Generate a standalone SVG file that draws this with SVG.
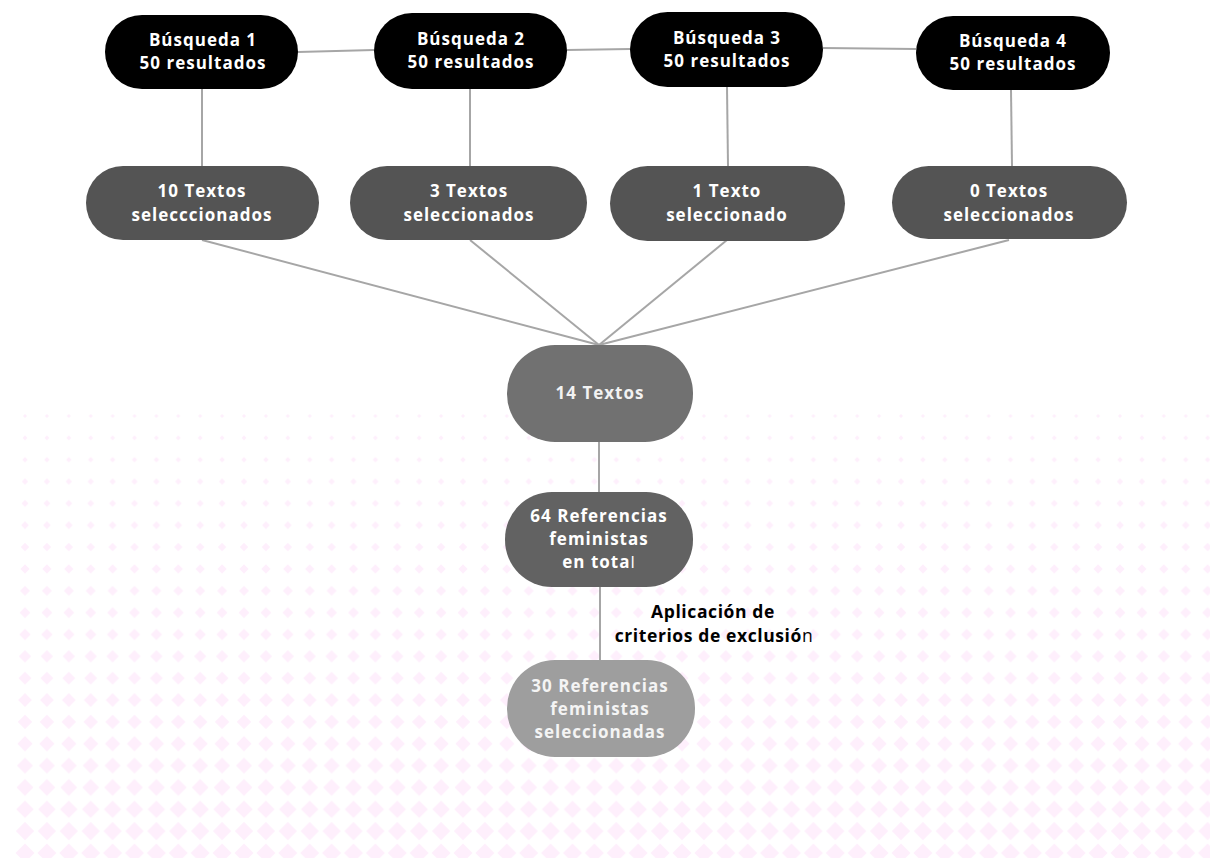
<svg xmlns="http://www.w3.org/2000/svg" width="1210" height="858" viewBox="0 0 1210 858">
<style>
.n text{font-family:"Open Sans","Liberation Sans",sans-serif;font-weight:700;font-size:17px;letter-spacing:1px;text-anchor:middle;fill:#fff}
.b rect{fill:#000}
.s rect{fill:#545454}
.c line{stroke:#a6a6a6;stroke-width:2}
.lbl{font-family:"Open Sans","Liberation Sans",sans-serif;font-weight:700;font-size:17.5px;letter-spacing:0.6px;fill:#000;text-anchor:middle}
</style>
<defs>
<path id="d" d="M0-1L1 0L0 1L-1 0Z" fill="#feeffc"/>
<pattern id="r0" patternUnits="userSpaceOnUse" x="14.05" y="405.05" width="21.9" height="21.9"><use href="#d" transform="translate(10.95 10.95) scale(2)"/></pattern>
<pattern id="r1" patternUnits="userSpaceOnUse" x="14.05" y="426.9" width="21.9" height="21.9"><use href="#d" transform="translate(10.95 10.95) scale(2.375)"/></pattern>
<pattern id="r2" patternUnits="userSpaceOnUse" x="14.05" y="448.75" width="21.9" height="21.9"><use href="#d" transform="translate(10.95 10.95) scale(2.75)"/></pattern>
<pattern id="r3" patternUnits="userSpaceOnUse" x="14.05" y="470.6" width="21.9" height="21.9"><use href="#d" transform="translate(10.95 10.95) scale(3.125)"/></pattern>
<pattern id="r4" patternUnits="userSpaceOnUse" x="14.05" y="492.45" width="21.9" height="21.9"><use href="#d" transform="translate(10.95 10.95) scale(3.5)"/></pattern>
<pattern id="r5" patternUnits="userSpaceOnUse" x="14.05" y="514.3" width="21.9" height="21.9"><use href="#d" transform="translate(10.95 10.95) scale(3.875)"/></pattern>
<pattern id="r6" patternUnits="userSpaceOnUse" x="14.05" y="536.15" width="21.9" height="21.9"><use href="#d" transform="translate(10.95 10.95) scale(4.25)"/></pattern>
<pattern id="r7" patternUnits="userSpaceOnUse" x="14.05" y="558" width="21.9" height="21.9"><use href="#d" transform="translate(10.95 10.95) scale(4.625)"/></pattern>
<pattern id="r8" patternUnits="userSpaceOnUse" x="14.05" y="579.85" width="21.9" height="21.9"><use href="#d" transform="translate(10.95 10.95) scale(5)"/></pattern>
<pattern id="r9" patternUnits="userSpaceOnUse" x="14.05" y="601.7" width="21.9" height="21.9"><use href="#d" transform="translate(10.95 10.95) scale(5.375)"/></pattern>
<pattern id="r10" patternUnits="userSpaceOnUse" x="14.05" y="623.55" width="21.9" height="21.9"><use href="#d" transform="translate(10.95 10.95) scale(5.75)"/></pattern>
<pattern id="r11" patternUnits="userSpaceOnUse" x="14.05" y="645.4" width="21.9" height="21.9"><use href="#d" transform="translate(10.95 10.95) scale(6.125)"/></pattern>
<pattern id="r12" patternUnits="userSpaceOnUse" x="14.05" y="667.25" width="21.9" height="21.9"><use href="#d" transform="translate(10.95 10.95) scale(6.5)"/></pattern>
<pattern id="r13" patternUnits="userSpaceOnUse" x="14.05" y="689.1" width="21.9" height="21.9"><use href="#d" transform="translate(10.95 10.95) scale(6.875)"/></pattern>
<pattern id="r14" patternUnits="userSpaceOnUse" x="14.05" y="710.95" width="21.9" height="21.9"><use href="#d" transform="translate(10.95 10.95) scale(7.25)"/></pattern>
<pattern id="r15" patternUnits="userSpaceOnUse" x="14.05" y="732.8" width="21.9" height="21.9"><use href="#d" transform="translate(10.95 10.95) scale(7.625)"/></pattern>
<pattern id="r16" patternUnits="userSpaceOnUse" x="14.05" y="754.65" width="21.9" height="21.9"><use href="#d" transform="translate(10.95 10.95) scale(8)"/></pattern>
<pattern id="r17" patternUnits="userSpaceOnUse" x="14.05" y="776.5" width="21.9" height="21.9"><use href="#d" transform="translate(10.95 10.95) scale(8.375)"/></pattern>
<pattern id="r18" patternUnits="userSpaceOnUse" x="14.05" y="798.35" width="21.9" height="21.9"><use href="#d" transform="translate(10.95 10.95) scale(8.75)"/></pattern>
<pattern id="r19" patternUnits="userSpaceOnUse" x="14.05" y="820.2" width="21.9" height="21.9"><use href="#d" transform="translate(10.95 10.95) scale(9.125)"/></pattern>
<pattern id="r20" patternUnits="userSpaceOnUse" x="14.05" y="842.05" width="21.9" height="21.9"><use href="#d" transform="translate(10.95 10.95) scale(9.5)"/></pattern>
</defs>
<rect width="1210" height="858" fill="#fff"/>
<g id="background-pattern">
<rect x="14.05" y="405.05" width="1196" height="21.9" fill="url(#r0)"/>
<rect x="14.05" y="426.9" width="1196" height="21.9" fill="url(#r1)"/>
<rect x="14.05" y="448.75" width="1196" height="21.9" fill="url(#r2)"/>
<rect x="14.05" y="470.6" width="1196" height="21.9" fill="url(#r3)"/>
<rect x="14.05" y="492.45" width="1196" height="21.9" fill="url(#r4)"/>
<rect x="14.05" y="514.3" width="1196" height="21.9" fill="url(#r5)"/>
<rect x="14.05" y="536.15" width="1196" height="21.9" fill="url(#r6)"/>
<rect x="14.05" y="558" width="1196" height="21.9" fill="url(#r7)"/>
<rect x="14.05" y="579.85" width="1196" height="21.9" fill="url(#r8)"/>
<rect x="14.05" y="601.7" width="1196" height="21.9" fill="url(#r9)"/>
<rect x="14.05" y="623.55" width="1196" height="21.9" fill="url(#r10)"/>
<rect x="14.05" y="645.4" width="1196" height="21.9" fill="url(#r11)"/>
<rect x="14.05" y="667.25" width="1196" height="21.9" fill="url(#r12)"/>
<rect x="14.05" y="689.1" width="1196" height="21.9" fill="url(#r13)"/>
<rect x="14.05" y="710.95" width="1196" height="21.9" fill="url(#r14)"/>
<rect x="14.05" y="732.8" width="1196" height="21.9" fill="url(#r15)"/>
<rect x="14.05" y="754.65" width="1196" height="21.9" fill="url(#r16)"/>
<rect x="14.05" y="776.5" width="1196" height="21.9" fill="url(#r17)"/>
<rect x="14.05" y="798.35" width="1196" height="21.9" fill="url(#r18)"/>
<rect x="14.05" y="820.2" width="1196" height="21.9" fill="url(#r19)"/>
<rect x="14.05" y="842.05" width="1196" height="21.9" fill="url(#r20)"/>
</g>
<g class="c" id="connectors">
<line x1="298" y1="52" x2="374" y2="50"/>
<line x1="567" y1="50" x2="630" y2="49"/>
<line x1="823" y1="48" x2="916" y2="49"/>
<line x1="202" y1="89" x2="202" y2="166"/>
<line x1="470" y1="89" x2="470" y2="166"/>
<line x1="727" y1="87" x2="728" y2="166"/>
<line x1="1011" y1="90" x2="1012" y2="166"/>
<line x1="202" y1="240" x2="599" y2="345"/>
<line x1="470" y1="240" x2="599" y2="345"/>
<line x1="727" y1="240" x2="599" y2="345"/>
<line x1="1009" y1="240" x2="599" y2="345"/>
<line x1="599" y1="442" x2="599" y2="492"/>
<line x1="600" y1="587" x2="600" y2="660"/>
</g>
<g id="busqueda1" class="n b"><rect x="105" y="15" width="193" height="74" rx="37"/><text x="203" y="46">Búsqueda 1</text><text x="203" y="69">50 resultados</text></g>
<g id="busqueda2" class="n b"><rect x="374" y="13" width="193" height="76" rx="38"/><text x="471" y="45">Búsqueda 2</text><text x="471" y="68">50 resultados</text></g>
<g id="busqueda3" class="n b"><rect x="630" y="12" width="193" height="75" rx="37.5"/><text x="727" y="44">Búsqueda 3</text><text x="727" y="67">50 resultados</text></g>
<g id="busqueda4" class="n b"><rect x="916" y="16" width="194" height="74" rx="37"/><text x="1013" y="47">Búsqueda 4</text><text x="1013" y="70">50 resultados</text></g>
<g id="sel1" class="n s"><rect x="86" y="166" width="233" height="74" rx="37"/><text x="202" y="197">10 Textos</text><text x="202" y="221">selecccionados</text></g>
<g id="sel2" class="n s"><rect x="350" y="166" width="237" height="74" rx="37"/><text x="469" y="197">3 Textos</text><text x="469" y="221">seleccionados</text></g>
<g id="sel3" class="n s"><rect x="610" y="166" width="235" height="75" rx="37.5"/><text x="727" y="197">1 Texto</text><text x="727" y="221">seleccionado</text></g>
<g id="sel4" class="n s"><rect x="892" y="166" width="235" height="73" rx="36.5"/><text x="1009" y="197">0 Textos</text><text x="1009" y="221">seleccionados</text></g>
<g id="total14" class="n"><rect x="507" y="345" width="186" height="97" rx="48" fill="#717171"/><text x="600" y="399" style="fill:#f2f2f2">14 Textos</text></g>
<g id="ref64" class="n"><rect x="505" y="492" width="188" height="95" rx="47" fill="#626262"/><text x="599" y="522">64 Referencias</text><text x="599" y="545">feministas</text><text x="599" y="568">en tota<tspan font-weight="400">l</tspan></text></g>
<g id="ref30" class="n"><rect x="507" y="660" width="188" height="97" rx="48" fill="#9e9e9e"/><text x="600" y="692" style="fill:#f4f4f4">30 Referencias</text><text x="600" y="715" style="fill:#f4f4f4">feministas</text><text x="600" y="738" style="fill:#f4f4f4">seleccionadas</text></g>
<g id="label-exclusion"><text class="lbl" x="713" y="618">Aplicación de</text><text class="lbl" x="714" y="642">criterios de exclusió<tspan font-weight="400">n</tspan></text></g>
</svg>
